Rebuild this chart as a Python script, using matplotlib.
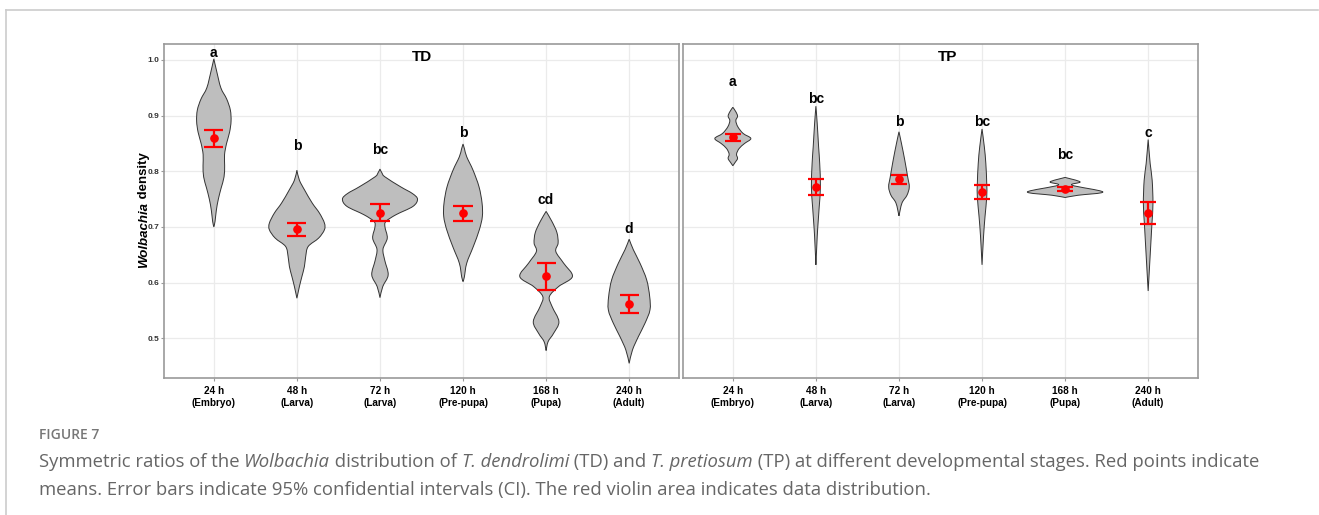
import numpy as np
import matplotlib
matplotlib.use("Agg")
import matplotlib.pyplot as plt
from matplotlib.path import Path
from matplotlib.patches import PathPatch
from matplotlib.lines import Line2D

# ---------------- data ----------------
stages = ["24 h\n(Embryo)", "48 h\n(Larva)", "72 h\n(Larva)",
          "120 h\n(Pre-pupa)", "168 h\n(Pupa)", "240 h\n(Adult)"]

td_mean = [0.860, 0.696, 0.726, 0.725, 0.612, 0.562]
td_ci_low = [0.844, 0.683, 0.711, 0.711, 0.586, 0.546]
td_ci_high = [0.875, 0.708, 0.741, 0.737, 0.636, 0.578]
td_letters = ["a", "b", "bc", "b", "cd", "d"]
td_letter_y = [1.012, 0.845, 0.838, 0.869, 0.748, 0.696]

tp_mean = [0.861, 0.772, 0.786, 0.763, 0.768, 0.726]
tp_ci_low = [0.855, 0.757, 0.778, 0.751, 0.764, 0.706]
tp_ci_high = [0.867, 0.787, 0.793, 0.775, 0.772, 0.745]
tp_letters = ["a", "bc", "b", "bc", "bc", "c"]
tp_letter_y = [0.960, 0.930, 0.889, 0.888, 0.830, 0.868]

# violin density profiles (levels of Wolbachia density, relative density)
td_levels = [
    [1.002, 0.98, 0.95, 0.93, 0.91, 0.89, 0.87, 0.85, 0.83, 0.81, 0.79, 0.77, 0.75, 0.73, 0.71, 0.70],
    [0.802, 0.784, 0.766, 0.743, 0.725, 0.707, 0.695, 0.68, 0.665, 0.647, 0.629, 0.611, 0.593, 0.572],
    [0.804, 0.797, 0.79, 0.772, 0.76, 0.75, 0.737, 0.722, 0.71, 0.70, 0.68, 0.66, 0.64, 0.614, 0.593, 0.573],
    [0.849, 0.84, 0.826, 0.802, 0.772, 0.743, 0.719, 0.695, 0.665, 0.635, 0.61, 0.602],
    [0.728, 0.71, 0.69, 0.671, 0.656, 0.635, 0.611, 0.593, 0.575, 0.557, 0.53, 0.509, 0.494, 0.478],
    [0.678, 0.659, 0.635, 0.605, 0.575, 0.551, 0.527, 0.503, 0.479, 0.455],
]
td_density = [
    [0, 2.8, 7.0, 12.8, 16.5, 17.2, 15.7, 12.7, 10.7, 10.8, 10.2, 7.3, 4.5, 2.5, 1.2, 0],
    [0, 2.5, 7.8, 15.3, 22.5, 27.5, 27.5, 21.7, 11.3, 8.8, 7.5, 5.0, 2.5, 0],
    [0, 2.0, 5.0, 20.8, 32.5, 37.5, 33.0, 16.0, 6.0, 5.0, 7.3, 3.0, 4.8, 8.2, 2.8, 0],
    [0, 1.5, 3.7, 10.0, 16.0, 19.0, 19.3, 16.3, 10.3, 3.7, 1.3, 0],
    [0, 5.8, 10.8, 12.0, 9.7, 17.5, 26.3, 12.5, 3.3, 6.0, 12.8, 7.5, 2.0, 0],
    [0, 4.2, 10.8, 17.5, 20.5, 20.8, 15.8, 9.2, 3.3, 0],
]
tp_levels = [
    [0.915, 0.907, 0.899, 0.891, 0.88, 0.868, 0.859, 0.85, 0.841, 0.831, 0.823, 0.816, 0.81],
    [0.917, 0.886, 0.844, 0.814, 0.772, 0.736, 0.695, 0.671, 0.632],
    [0.871, 0.85, 0.82, 0.79, 0.772, 0.757, 0.743, 0.72],
    [0.876, 0.844, 0.814, 0.778, 0.754, 0.719, 0.683, 0.632],
    [0.789, 0.781, 0.775, 0.763, 0.757, 0.753],
    [0.857, 0.814, 0.784, 0.742, 0.707, 0.665, 0.623, 0.585],
]
tp_density = [
    [0, 3.0, 4.7, 3.0, 5.0, 10.3, 18.0, 11.7, 6.3, 3.7, 4.7, 2.3, 0],
    [0, 1.3, 2.7, 3.8, 4.5, 3.3, 1.7, 1.0, 0],
    [0, 2.5, 5.8, 8.7, 10.3, 8.0, 3.0, 0],
    [0, 2.3, 3.8, 4.7, 4.7, 3.0, 1.5, 0],
    [0, 15.0, 7.0, 37.7, 13.0, 0],
    [0, 2.0, 4.0, 4.8, 3.8, 2.5, 1.2, 0],
]
DENSITY_SCALE = 1 / 83.0

# ---------------- helpers ----------------
def cr_segments(pts):
    """Catmull-Rom -> cubic Bezier vertices for an open polyline."""
    pts = np.asarray(pts, float)
    ext = np.vstack([pts[0], pts, pts[-1]])
    verts = []
    for i in range(1, len(ext) - 2):
        p0, p1, p2, p3 = ext[i - 1], ext[i], ext[i + 1], ext[i + 2]
        c1 = p1 + (p2 - p0) / 6.0
        c2 = p2 - (p3 - p1) / 6.0
        verts += [c1, c2, p2]
    return verts


def violin(ax, xc, levels, dens):
    lv = np.asarray(levels, float)
    w = np.asarray(dens, float) * DENSITY_SCALE
    right = np.column_stack([xc + w, lv])
    left = np.column_stack([xc - w, lv])[::-1]
    verts = [right[0]]
    codes = [Path.MOVETO]
    seg = cr_segments(right)
    verts += seg
    codes += [Path.CURVE4] * len(seg)
    seg = cr_segments(left)
    verts += seg
    codes += [Path.CURVE4] * len(seg)
    verts.append(right[0])
    codes.append(Path.CLOSEPOLY)
    ax.add_patch(PathPatch(Path(verts, codes), facecolor="#BEBEBE",
                           edgecolor="#333333", lw=0.7, zorder=2))


W, H = 1319, 515
fig = plt.figure(figsize=(W / 100, H / 100), dpi=100)
fig.patch.set_facecolor("white")

# page frame
fig.add_artist(Line2D([6 / W, 1318 / W], [1 - 10 / H, 1 - 10 / H], color="#cccccc", lw=1.2))
fig.add_artist(Line2D([6 / W, 6 / W], [1 - 10 / H, 0], color="#cccccc", lw=1.2))

ax_h = (378 - 44) / H
ax_b = 1 - 378 / H
ax_w = (679 - 164) / W
axL = fig.add_axes([164 / W, ax_b, ax_w, ax_h])
axR = fig.add_axes([683 / W, ax_b, ax_w, ax_h])

CHART_FONT = "Liberation Sans"
xpos = np.arange(1, len(stages) + 1)

panels = [
    (axL, "TD", td_levels, td_density, td_mean, td_ci_low, td_ci_high, td_letters, td_letter_y, 0.115, 3.5),
    (axR, "TP", tp_levels, tp_density, tp_mean, tp_ci_low, tp_ci_high, tp_letters, tp_letter_y, 0.10, 3.58),
]

for ax, title, levs, dens, mean, lo, hi, letters, ly, cap, tx in panels:
    ax.set_xlim(0.4, 6.6)
    ax.set_ylim(0.4287, 1.0287)
    ax.set_yticks([0.5, 0.6, 0.7, 0.8, 0.9, 1.0])
    ax.set_xticks(xpos)
    ax.grid(True, color="#ebebeb", lw=0.9, zorder=0)
    ax.set_axisbelow(True)
    for sp in ax.spines.values():
        sp.set_color("#999999")
        sp.set_linewidth(1.2)
    for i, x in enumerate(xpos):
        violin(ax, x, levs[i], dens[i])
    ax.vlines(xpos, lo, hi, color="red", lw=1.6, zorder=3)
    ax.hlines(lo, xpos - cap, xpos + cap, color="red", lw=1.6, zorder=3)
    ax.hlines(hi, xpos - cap, xpos + cap, color="red", lw=1.6, zorder=3)
    ax.plot(xpos, mean, "o", color="red", ms=5.2, zorder=4)
    for x, t, y in zip(xpos, letters, ly):
        ax.text(x, y, t, ha="center", va="center", fontsize=10,
                fontweight="bold", family=CHART_FONT, color="black", zorder=5)
    ax.text(tx, 1.005, title, ha="center", va="center", fontsize=11,
            fontweight="bold", family=CHART_FONT, color="black")
    ax.set_xticklabels(stages, fontsize=7.2, fontweight="bold",
                       family=CHART_FONT, linespacing=1.35)
    ax.tick_params(axis="x", length=2.5, width=0.8, color="#999999", pad=3)
    ax.tick_params(axis="y", length=2.2, width=0.8, color="#999999", pad=1)

axL.set_yticklabels(["0.5", "0.6", "0.7", "0.8", "0.9", "1.0"], fontsize=6,
                    fontweight="bold", family=CHART_FONT, color="#333333")
axR.tick_params(axis="y", left=False, labelleft=False)

fig.canvas.draw()
renderer = fig.canvas.get_renderer()

# y label: italic "Wolbachia" + " density", rotated
yl_cx = 144 / W
yl_cy = 1 - 210.5 / H
t1 = fig.text(0, 0, "Wolbachia", rotation=90, fontsize=9.5, fontweight="bold",
              fontstyle="italic", family=CHART_FONT, ha="center", va="bottom")
t2 = fig.text(0, 0, " density", rotation=90, fontsize=9.5, fontweight="bold",
              family=CHART_FONT, ha="center", va="bottom")
h1 = t1.get_window_extent(renderer).height / fig.bbox.height
h2 = t2.get_window_extent(renderer).height / fig.bbox.height
y0 = yl_cy - (h1 + h2) / 2
t1.set_position((yl_cx, y0))
t2.set_position((yl_cx, y0 + h1))

# caption
CAP_FONT = "Open Sans"
fig.text(39 / W, 1 - 435 / H, "FIGURE 7", fontsize=10, fontweight="semibold",
         family=CAP_FONT, color="#777777", va="center", ha="left")


def runs(x, y, parts, **kw):
    for txt, style in parts:
        t = fig.text(x, y, txt, fontstyle=style, **kw)
        x += t.get_window_extent(renderer).width / fig.bbox.width


cap_kw = dict(fontsize=13.3, family=CAP_FONT, color="#666666", va="center", ha="left")
runs(39 / W, 1 - 462 / H, [
    ("Symmetric ratios of the ", "normal"), ("Wolbachia", "italic"),
    (" distribution of ", "normal"), ("T. dendrolimi", "italic"),
    (" (TD) and ", "normal"), ("T. pretiosum", "italic"),
    (" (TP) at different developmental stages. Red points indicate", "normal"),
], **cap_kw)
runs(39 / W, 1 - 490 / H, [
    ("means. Error bars indicate 95% confidential intervals (CI). The red violin area indicates data distribution.", "normal"),
], **cap_kw)

fig.savefig("out.png", dpi=100)
